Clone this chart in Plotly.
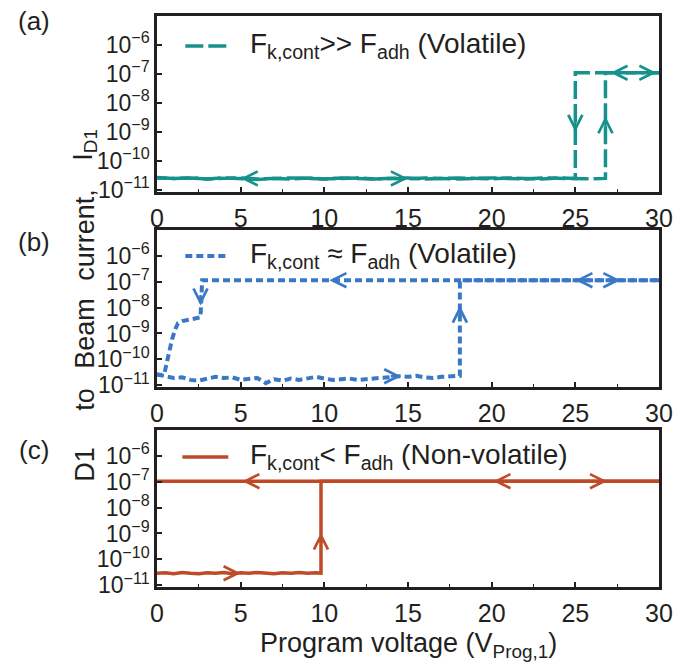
import numpy as np
import plotly.graph_objects as go

# ---------------- data ----------------
# (a) F_k,cont >> F_adh (Volatile)
a_fwd_v = [0, 1, 2, 3, 4, 5, 6, 7, 8, 9, 10, 11, 12, 13, 14, 15, 16, 17, 18, 19, 20,
           21, 22, 23, 24, 25, 26, 26.8, 26.8, 28, 30]
a_fwd_i = [2.7e-11, 2.5e-11, 2.6e-11, 2.4e-11, 2.6e-11, 2.5e-11, 2.3e-11, 2.5e-11, 2.4e-11, 2.6e-11,
           2.4e-11, 2.5e-11, 2.6e-11, 2.4e-11, 2.5e-11, 2.4e-11, 2.6e-11, 2.5e-11, 2.4e-11, 2.5e-11,
           2.6e-11, 2.5e-11, 2.4e-11, 2.6e-11, 2.5e-11, 2.5e-11, 2.4e-11, 2.5e-11,
           1.1e-7, 1.1e-7, 1.1e-7]
a_bwd_v = [30, 28, 26, 25, 25, 24, 23, 22, 21, 20, 19, 18, 17, 16, 15, 14, 13, 12, 11, 10,
           9, 8, 7, 6, 5, 4, 3, 2, 1, 0]
a_bwd_i = [1.1e-7, 1.1e-7, 1.1e-7, 1.1e-7, 2.5e-11, 2.6e-11, 2.4e-11, 2.5e-11, 2.6e-11, 2.4e-11,
           2.5e-11, 2.6e-11, 2.5e-11, 2.4e-11, 2.6e-11, 2.5e-11, 2.4e-11, 2.5e-11, 2.6e-11, 2.4e-11,
           2.5e-11, 2.6e-11, 2.5e-11, 2.4e-11, 2.6e-11, 2.5e-11, 2.4e-11, 2.6e-11, 2.5e-11, 2.6e-11]
a_arr_v = [5.0, 15.0, 26.8, 25.0, 27.1, 29.85]
a_arr_i = [2.5e-11, 2.5e-11, 3.5e-9, 1.0e-9, 1.1e-7, 1.1e-7]
a_arr_dir = ["left", "right", "up", "down", "left", "right"]

# (b) F_k,cont ≈ F_adh (Volatile)
b_fwd_v = [0, 0.5, 1.0, 1.5, 2.0, 2.5, 3.0, 3.5, 4.0, 4.5, 5.0, 5.5, 6.0, 6.5, 7.0, 7.5, 8.0, 8.5,
           9.0, 9.5, 10.0, 10.5, 11.0, 11.5, 12.0, 12.5, 13.0, 13.5, 14.0, 14.5, 15.0, 15.5, 16.0,
           16.5, 17.0, 17.5, 18.0, 18.1, 18.1, 22, 26, 30]
b_fwd_i = [2.6e-11, 2.2e-11, 1.9e-11, 2.0e-11, 1.6e-11, 1.5e-11, 1.8e-11, 2.1e-11, 1.9e-11, 2.0e-11,
           1.6e-11, 1.7e-11, 1.9e-11, 1.2e-11, 1.7e-11, 1.5e-11, 1.8e-11, 1.6e-11, 1.9e-11, 2.1e-11,
           1.8e-11, 1.6e-11, 1.7e-11, 1.8e-11, 1.6e-11, 1.7e-11, 1.9e-11, 2.0e-11, 2.1e-11, 2.2e-11,
           2.1e-11, 2.3e-11, 2.0e-11, 1.9e-11, 2.1e-11, 2.2e-11, 2.3e-11, 2.3e-11,
           1.15e-7, 1.15e-7, 1.15e-7, 1.15e-7]
b_bwd_v = [30, 20, 10, 2.7, 2.6, 2.2, 1.8, 1.5, 1.25, 1.1, 0.9, 0.75, 0.6, 0.45, 0.3, 0]
b_bwd_i = [1.15e-7, 1.15e-7, 1.15e-7, 1.15e-7, 4.2e-9, 3.8e-9, 3.3e-9, 3.0e-9, 2.5e-9, 1.5e-9,
           6e-10, 2e-10, 8e-11, 3e-11, 2.5e-11, 2.6e-11]
b_arr_v = [14.6, 18.1, 2.6, 10.3, 25.0, 27.7]
b_arr_i = [2.2e-11, 1.2e-8, 1.2e-8, 1.15e-7, 1.15e-7, 1.15e-7]
b_arr_dir = ["right", "up", "down", "left", "left", "right"]

# (c) F_k,cont < F_adh (Non-volatile)
c_fwd_v = [0, 0.5, 1.0, 1.5, 2.0, 2.5, 3.0, 3.5, 4.0, 4.5, 5.0, 5.5, 6.0, 6.5, 7.0, 7.5, 8.0, 8.5,
           9.0, 9.5, 9.8, 9.8, 15, 20, 25, 30]
c_fwd_i = [2.9e-11, 3.0e-11, 2.8e-11, 3.1e-11, 2.9e-11, 2.8e-11, 3.0e-11, 2.9e-11, 3.1e-11, 2.8e-11,
           3.0e-11, 2.9e-11, 3.1e-11, 3.0e-11, 2.8e-11, 3.0e-11, 2.9e-11, 3.1e-11, 2.9e-11, 3.0e-11,
           2.9e-11, 1.05e-7, 1.05e-7, 1.05e-7, 1.05e-7, 1.05e-7]
c_bwd_v = [30, 0]
c_bwd_i = [1.05e-7, 1.05e-7]
c_arr_v = [5.0, 9.8, 5.1, 20.1, 26.9]
c_arr_i = [2.9e-11, 1.1e-9, 1.05e-7, 1.05e-7, 1.05e-7]
c_arr_dir = ["right", "up", "left", "left", "right"]

x_ticks = [0, 5, 10, 15, 20, 25, 30]
y_ticks = [1e-11, 1e-10, 1e-9, 1e-8, 1e-7, 1e-6]
y_ticktext = ["10<sup>−11</sup>", "10<sup>−10</sup>", "10<sup>−9</sup>", "10<sup>−8</sup>",
              "10<sup>−7</sup>", "10<sup>−6</sup>"]

legend_a = "F<sub>k,cont</sub>&gt;&gt; F<sub>adh</sub> (Volatile)"
legend_b = "F<sub>k,cont</sub> ≈ F<sub>adh</sub> (Volatile)"
legend_c = "F<sub>k,cont</sub>&lt; F<sub>adh</sub> (Non-volatile)"

# ---------------- style ----------------
TEAL = "#17918c"
BLUE = "#3a78c6"
RUST = "#bf4a28"
INK = "#231f20"
FONT = "Liberation Sans, Arial, sans-serif"

fig = go.Figure()

panels = [
    ("x", "y", a_fwd_v, a_fwd_i, a_bwd_v, a_bwd_i, a_arr_v, a_arr_i, a_arr_dir, TEAL, "18px,5px", 3.5),
    ("x2", "y2", b_fwd_v, b_fwd_i, b_bwd_v, b_bwd_i, b_arr_v, b_arr_i, b_arr_dir, BLUE, "7px,4px", 4),
    ("x3", "y3", c_fwd_v, c_fwd_i, c_bwd_v, c_bwd_i, c_arr_v, c_arr_i, c_arr_dir, RUST, "solid", 3.5),
]

annotations = []
offs = {"left": (12, 0), "right": (-12, 0), "up": (0, 12), "down": (0, -12)}
for xa, ya, fv, fi, bv, bi, av, ai, ad, col, dash, w in panels:
    for xs, ys in ((fv, fi), (bv, bi)):
        fig.add_trace(go.Scatter(x=xs, y=ys, xaxis=xa, yaxis=ya, mode="lines",
                                 line=dict(color=col, width=w, dash=dash),
                                 showlegend=False, hoverinfo="skip"))
    # chevron arrowheads showing the sweep direction (tip at the data point)
    for v, i, d in zip(av, ai, ad):
        dx, dy = offs[d]
        annotations.append(dict(x=v, y=float(np.log10(i)), xref=xa, yref=ya, text="",
                                showarrow=True, arrowhead=5, arrowsize=1.15, arrowwidth=2.4,
                                arrowcolor=col, ax=dx, ay=dy, standoff=0))

# legends (manual, sized like the reference)
leg = [(0.9475, legend_a, TEAL, "18px,5px", 0.0564, 0.140, 3.5),
       (0.5797, legend_b, BLUE, "7px,4px", 0.0564, 0.140, 4),
       (0.2277, legend_c, RUST, "solid", 0.0506, 0.142, 3.5)]
shapes = []
for yy, txt, col, dash, x0, x1, w in leg:
    shapes.append(dict(type="line", xref="paper", yref="paper", x0=x0, x1=x1, y0=yy, y1=yy,
                       line=dict(color=col, width=w, dash=dash)))
    annotations.append(dict(x=0.181, y=yy, xref="paper", yref="paper", text=txt, showarrow=False,
                            xanchor="left", yanchor="middle", font=dict(size=28, color=INK, family=FONT)))

# panel labels
for lbl, yy in (("(a)", 0.991), ("(b)", 0.604), ("(c)", 0.240)):
    annotations.append(dict(x=-0.245, y=yy, xref="paper", yref="paper", text=lbl, showarrow=False,
                            xanchor="center", yanchor="middle", font=dict(size=26, color=INK, family=FONT)))

# y-axis title words (spread along the left edge)
for word, yy in (("I<sub>D1</sub>", 0.774), ("current,", 0.6165), ("Beam", 0.4448),
                 ("to", 0.3292), ("D1", 0.2154)):
    annotations.append(dict(x=-0.144, y=yy, xref="paper", yref="paper", text=word, showarrow=False,
                            textangle=-90, xanchor="center", yanchor="middle",
                            font=dict(size=27, color=INK, family=FONT)))

# x-axis title
annotations.append(dict(x=0.5, y=-0.1016, xref="paper", yref="paper",
                        text="Program voltage (V<sub>Prog,1</sub>)", showarrow=False,
                        xanchor="center", yanchor="middle", font=dict(size=27, color=INK, family=FONT)))

xcommon = dict(range=[0, 30], tickvals=x_ticks, ticks="inside", ticklen=5, tickwidth=1.5,
               tickcolor=INK, showline=True, linewidth=2.5, linecolor=INK, mirror=True,
               showgrid=False, zeroline=False, ticklabelstandoff=2,
               tickfont=dict(size=25, color=INK, family=FONT),
               minor=dict(dtick=2.5, ticks="inside", ticklen=3, tickwidth=1.2, tickcolor=INK, showgrid=False))
ycommon = dict(type="log", range=[-11.07, -5.0], tickvals=y_ticks, ticktext=y_ticktext,
               ticks="inside", ticklen=5, tickwidth=1.5, tickcolor=INK, showline=True,
               linewidth=2.5, linecolor=INK, mirror=True, showgrid=False, zeroline=False,
               tickfont=dict(size=23, color=INK, family=FONT))

fig.update_layout(
    width=685, height=664,
    margin=dict(l=157, r=14, t=16, b=77),
    paper_bgcolor="white", plot_bgcolor="white",
    showlegend=False,
    xaxis=dict(domain=[0, 1], anchor="y", **xcommon),
    xaxis2=dict(domain=[0, 1], anchor="y2", **xcommon),
    xaxis3=dict(domain=[0, 1], anchor="y3", **xcommon),
    yaxis=dict(domain=[0.6918, 1.0], anchor="x", **ycommon),
    yaxis2=dict(domain=[0.3503, 0.6252], anchor="x2", **ycommon),
    yaxis3=dict(domain=[0.0, 0.2750], anchor="x3", **ycommon),
    annotations=annotations,
    shapes=shapes,
    font=dict(family=FONT, color=INK),
)

fig.write_html("out.html")
